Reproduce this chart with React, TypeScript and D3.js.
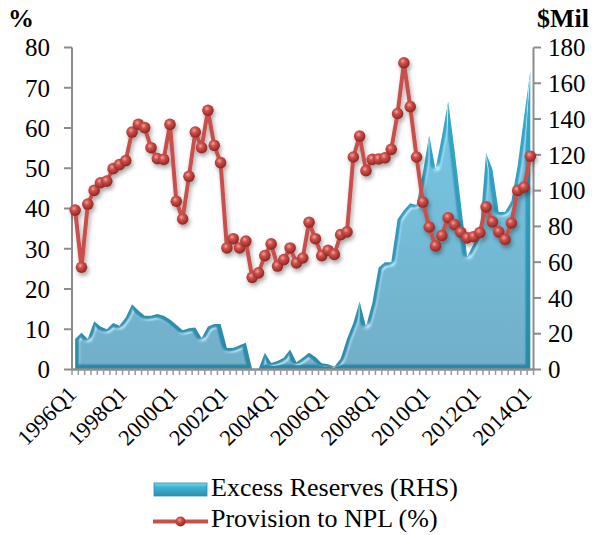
import React from "react";
import * as d3 from "d3";

const W = 605;
const H = 535;

// 73 quarters: 1996Q1 .. 2014Q1
const years = d3.range(1996, 2015);
const categories: string[] = years
  .flatMap((y) => [1, 2, 3, 4].map((q) => `${y}Q${q}`))
  .slice(0, 73);

// Provision to NPL (%), left axis
const provision = [
  39.6, 25.4, 41.1, 44.5, 46.4, 46.8, 49.9, 50.9, 51.9, 59.0, 60.9, 60.1,
  55.1, 52.4, 52.2, 60.9, 41.8, 37.4, 48.0, 59.0, 55.1, 64.4, 55.7, 51.4,
  30.2, 32.5, 30.2, 31.9, 22.9, 24.0, 28.3, 31.2, 25.7, 27.3, 30.2, 26.5,
  27.7, 36.6, 32.5, 28.3, 29.6, 28.6, 33.5, 34.2, 52.8, 58.0, 49.4, 52.2,
  52.3, 52.6, 54.7, 63.6, 76.2, 65.3, 52.8, 41.6, 35.4, 30.7, 33.3, 37.7,
  36.0, 34.1, 32.7, 33.0, 34.0, 40.4, 36.7, 34.2, 32.3, 36.4, 44.5, 45.3,
  53.0,
];

// Excess Reserves ($Mil), right axis
const reserves = [
  17, 20.5, 17, 27, 24, 22.5, 26, 24.5, 29, 36.5, 33, 30,
  30, 31, 30, 28, 25, 22, 23, 23.5, 17.5, 24, 25.5, 25.5,
  12, 12, 13.5, 15, 0, 0, 9.3, 3.7, 4.7, 6.5, 11.2, 4,
  6.5, 9.3, 7, 3.5, 3, 1.5, 6, 17, 26, 38, 24, 37,
  57, 60, 60, 84, 89, 93, 92, 110, 131, 112, 130, 150,
  123, 93, 63, 70, 77, 121, 112, 88, 88, 94, 114, 141,
  167,
];

const leftTicks = [0, 10, 20, 30, 40, 50, 60, 70, 80];
const rightTicks = [0, 20, 40, 60, 80, 100, 120, 140, 160, 180];
const xTickLabels = [
  "1996Q1", "1998Q1", "2000Q1", "2002Q1", "2004Q1",
  "2006Q1", "2008Q1", "2010Q1", "2012Q1", "2014Q1",
];

const FONT = "'Liberation Serif', 'Times New Roman', serif";

export default function App() {
  const x = d3.scaleBand<string>().domain(categories).range([72, 533.5]);
  const cx = (c: string) => (x(c) as number) + x.bandwidth() / 2;
  const yL = d3.scaleLinear().domain([0, 80]).range([369.5, 47.5]);
  const yR = d3.scaleLinear().domain([0, 180]).range([369.5, 47.5]);

  const areaGen = d3
    .area<number>()
    .x((_, i) => cx(categories[i]))
    .y0(yR(0))
    .y1((d) => yR(d));
  const lineGen = d3
    .line<number>()
    .x((_, i) => cx(categories[i]))
    .y((d) => yL(d));

  const boundaries = d3.range(categories.length + 1).map(
    (i) => 72 + i * x.step()
  );

  return (
    <svg
      width={W}
      height={H}
      style={{ position: "absolute", left: 0, top: 0, background: "#fff" }}
      fontFamily={FONT}
    >
      <defs>
        <linearGradient id="areaFill" x1="0" y1="0" x2="0" y2="1">
          <stop offset="0%" stopColor="#36add0" />
          <stop offset="100%" stopColor="#2889a8" />
        </linearGradient>
        <filter id="bevel" x="-5%" y="-10%" width="110%" height="120%">
          <feGaussianBlur in="SourceAlpha" stdDeviation="2.2" result="blur" />
          <feSpecularLighting
            in="blur"
            surfaceScale="5"
            specularConstant="1"
            specularExponent="16"
            lightingColor="#e6fbff"
            result="spec"
          >
            <feDistantLight azimuth="235" elevation="50" />
          </feSpecularLighting>
          <feComposite in="spec" in2="SourceAlpha" operator="in" result="specIn" />
          <feComposite
            in="SourceGraphic"
            in2="specIn"
            operator="arithmetic"
            k1="0"
            k2="1"
            k3="0.5"
            k4="0"
          />
        </filter>
        <filter id="shadow" x="-10%" y="-10%" width="120%" height="130%">
          <feDropShadow dx="1.5" dy="3" stdDeviation="2" floodColor="#000" floodOpacity="0.35" />
        </filter>
        <radialGradient id="ball" cx="40%" cy="35%" r="65%">
          <stop offset="0%" stopColor="#f3a39f" />
          <stop offset="35%" stopColor="#d0504b" />
          <stop offset="100%" stopColor="#8e2622" />
        </radialGradient>
        <linearGradient id="swatchFill" x1="0" y1="0" x2="0" y2="1">
          <stop offset="0%" stopColor="#7fdcf0" />
          <stop offset="30%" stopColor="#3fb6d4" />
          <stop offset="100%" stopColor="#2b8fad" />
        </linearGradient>
      </defs>

      {/* Area: Excess Reserves (RHS) */}
      <path d={areaGen(reserves) as string} fill="url(#areaFill)" filter="url(#bevel)" />

      {/* Axes */}
      <line x1={72} x2={72} y1={47.5} y2={369.5} stroke="#8c8c8c" strokeWidth={2} />
      <line x1={533.5} x2={533.5} y1={47.5} y2={369.5} stroke="#8c8c8c" strokeWidth={2} />
      <line x1={71} x2={534.5} y1={369.5} y2={369.5} stroke="#8c8c8c" strokeWidth={2.5} />
      {leftTicks.map((t) => (
        <line key={"lt" + t} x1={64} x2={72} y1={yL(t)} y2={yL(t)} stroke="#8c8c8c" strokeWidth={2} />
      ))}
      {rightTicks.map((t) => (
        <line key={"rt" + t} x1={533.5} x2={541} y1={yR(t)} y2={yR(t)} stroke="#8c8c8c" strokeWidth={2} />
      ))}
      {boundaries.map((b, i) => (
        <line key={"bt" + i} x1={b} x2={b} y1={369.5} y2={375} stroke="#9a9a9a" strokeWidth={1.5} />
      ))}

      {/* Line: Provision to NPL */}
      <g filter="url(#shadow)">
        <path d={lineGen(provision) as string} fill="none" stroke="#c8504b" strokeWidth={4} strokeLinejoin="round" />
        {provision.map((v, i) => (
          <circle key={"m" + i} cx={cx(categories[i])} cy={yL(v)} r={5.8} fill="url(#ball)" />
        ))}
      </g>

      {/* Axis labels */}
      {leftTicks.map((t) => (
        <text key={"ll" + t} x={50} y={yL(t)} dy="0.35em" textAnchor="end" fontSize={25} fill="#000">
          {t}
        </text>
      ))}
      {rightTicks.map((t) => (
        <text key={"rl" + t} x={548} y={yR(t)} dy="0.35em" textAnchor="start" fontSize={25} fill="#000">
          {t}
        </text>
      ))}
      {xTickLabels.map((lab) => {
        const px = cx(lab) - 3;
        const py = 390;
        return (
          <text
            key={"xl" + lab}
            x={px}
            y={py}
            dy="0.35em"
            textAnchor="end"
            fontSize={22.5}
            transform={`rotate(-45 ${px} ${py})`}
          >
            {lab}
          </text>
        );
      })}
      <text x={8} y={27} fontSize={26} fontWeight="bold">%</text>
      <text x={537} y={27} fontSize={26} fontWeight="bold">$Mil</text>

      {/* Legend */}
      <rect x={154} y={483} width={53} height={13} fill="url(#swatchFill)" stroke="#2a8eac" strokeWidth={0.8} />
      <text x={211} y={496} fontSize={26}>Excess Reserves (RHS)</text>
      <line x1={153} x2={208} y1={521.5} y2={521.5} stroke="#c8504b" strokeWidth={4} />
      <circle cx={180.5} cy={521.5} r={5} fill="url(#ball)" />
      <text x={211} y={527} fontSize={26}>Provision to NPL (%)</text>
    </svg>
  );
}
